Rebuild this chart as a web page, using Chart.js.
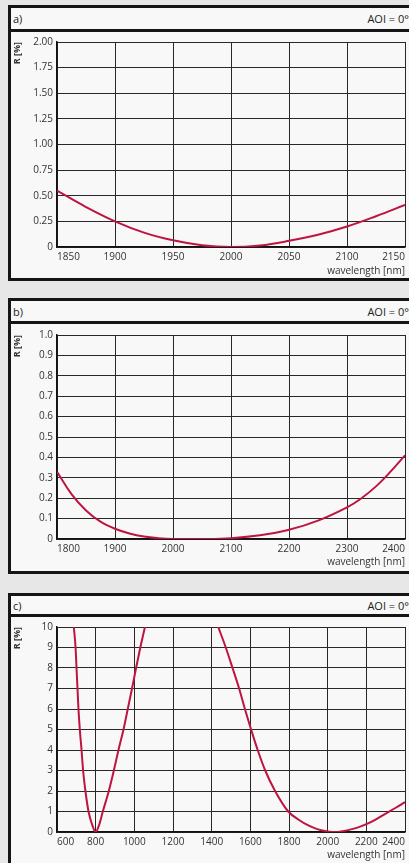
<!DOCTYPE html>
<html>
<head>
<meta charset="utf-8">
<script src="https://cdn.jsdelivr.net/npm/chart.js@4/dist/chart.umd.min.js"></script>
<style>
  html, body { margin: 0; padding: 0; }
  body { width: 409px; height: 863px; overflow: hidden; background: #e7e7e7; position: relative;
         font-family: "Open Sans", "Liberation Sans", sans-serif; }
  .panel { position: absolute; left: 8px; width: 420px; border: 3px solid #151515; background: #f8f8f8; }
  .head { width: 398px; border-bottom: 3px solid #151515; display: flex; justify-content: space-between;
          align-items: center; font-size: 11px; color: #222; padding-left: 2px; box-sizing: border-box; }
  .plot { position: relative; width: 398px; }
</style>
</head>
<body>

<div class="panel" style="top:5px">
  <div class="head" style="height:24px"><span>a)</span><span>AOI = 0°</span></div>
  <div class="plot" style="height:246px"><canvas id="chartA"></canvas></div>
</div>

<div class="panel" style="top:298px">
  <div class="head" style="height:23px"><span>b)</span><span>AOI = 0°</span></div>
  <div class="plot" style="height:247px"><canvas id="chartB"></canvas></div>
</div>

<div class="panel" style="top:593px">
  <div class="head" style="height:21px"><span>c)</span><span>AOI = 0°</span></div>
  <div class="plot" style="height:246px"><canvas id="chartC"></canvas></div>
</div>

<script>
// a) reflectance around 2000 nm
const wavelengthA = [1850, 1875, 1900, 1925, 1950, 1975, 2000, 2025, 2050, 2075, 2100, 2125, 2150];
const reflectA    = [0.55, 0.39, 0.25, 0.14, 0.065, 0.017, 0, 0.015, 0.06, 0.12, 0.2, 0.3, 0.41];
const xTicksA = [1850, 1900, 1950, 2000, 2050, 2100, 2150];
const yTicksA = [0, 0.25, 0.5, 0.75, 1, 1.25, 1.5, 1.75, 2];

// b) broadband 1800-2400 nm
const wavelengthB = [1800, 1825, 1850, 1875, 1900, 1925, 1950, 1975, 2000, 2050, 2100, 2150, 2200, 2250, 2300, 2325, 2350, 2375, 2400];
const reflectB    = [0.33, 0.22, 0.14, 0.085, 0.05, 0.027, 0.012, 0.004, 0, 0, 0.004, 0.018, 0.045, 0.09, 0.155, 0.2, 0.258, 0.33, 0.41];
const xTicksB = [1800, 1900, 2000, 2100, 2200, 2300, 2400];
const yTicksB = [0, 0.1, 0.2, 0.3, 0.4, 0.5, 0.6, 0.7, 0.8, 0.9, 1];

// c) dual band 800 nm + 2040 nm, two branches
const wavelengthC1 = [687, 696, 701, 706, 711, 718, 727, 735, 747, 763, 782, 800, 818, 837, 868, 894, 918, 944, 966, 988, 1009, 1031, 1055];
const reflectC1    = [10, 9, 8, 7, 6, 5, 4, 3, 2, 1, 0.35, 0, 0.35, 1, 2, 3, 4, 5, 6, 7, 8, 9, 10];
const wavelengthC2 = [1434, 1473, 1508, 1542, 1572, 1604, 1638, 1677, 1728, 1796, 1850, 1900, 1950, 2000, 2040, 2100, 2150, 2200, 2250, 2300, 2350, 2400];
const reflectC2    = [10, 9, 8, 7, 6, 5, 4, 3, 2, 1, 0.6, 0.32, 0.13, 0.03, 0, 0.08, 0.2, 0.38, 0.62, 0.9, 1.17, 1.46];
const xTicksC = [600, 800, 1000, 1200, 1400, 1600, 1800, 2000, 2200, 2400];
const yTicksC = [0, 1, 2, 3, 4, 5, 6, 7, 8, 9, 10];

const curveColor = '#be1440';
const gridColor = '#282828';
const tickFont = { family: '"Open Sans", "Liberation Sans", sans-serif', size: 10 };

function makeChart(id, series, xTicks, yTicks, yDecimals, padTop, axisHeight, titlePad, interp) {
  new Chart(document.getElementById(id), {
    type: 'line',
    data: {
      datasets: series.map(s => ({
        data: s.x.map((x, i) => ({ x: x, y: s.y[i] })),
        borderColor: curveColor,
        borderWidth: 2,
        pointRadius: 0,
        fill: false,
        tension: 0.4,
        cubicInterpolationMode: interp
      }))
    },
    options: {
      animation: false,
      responsive: true,
      maintainAspectRatio: false,
      layout: { padding: { top: padTop, left: 0, right: 0, bottom: 0 } },
      plugins: { legend: { display: false }, tooltip: { enabled: false } },
      scales: {
        x: {
          type: 'linear',
          min: xTicks[0],
          max: xTicks[xTicks.length - 1],
          afterBuildTicks: s => { s.ticks = xTicks.map(v => ({ value: v })); },
          afterFit: s => { s.height = axisHeight; },
          grid: { color: gridColor, lineWidth: 1, drawTicks: false },
          border: { color: '#111', width: 1.5 },
          ticks: { align: 'inner', padding: 4, autoSkip: false, maxRotation: 0,
                   font: tickFont, color: '#333', callback: v => String(v) },
          title: { display: true, text: 'wavelength [nm]', align: 'end', font: tickFont,
                   color: '#333', padding: { top: 0, bottom: titlePad } }
        },
        y: {
          min: yTicks[0],
          max: yTicks[yTicks.length - 1],
          afterBuildTicks: s => { s.ticks = yTicks.map(v => ({ value: v })); },
          afterFit: s => { s.width = 46; },
          grid: { color: gridColor, lineWidth: 1, drawTicks: false },
          border: { color: '#111', width: 1.5 },
          ticks: { padding: 4, font: tickFont, color: '#333',
                   callback: v => v === 0 ? '0' : Number(v).toFixed(yDecimals) },
          title: { display: true, text: 'R [%]', align: 'end',
                   font: { family: tickFont.family, size: 9, weight: 'bold' },
                   color: '#333', padding: { top: 1, bottom: 0 } }
        }
      }
    }
  });
}

makeChart('chartA', [{ x: wavelengthA, y: reflectA }], xTicksA, yTicksA, 2, 10, 31, 1, 'default');
makeChart('chartB', [{ x: wavelengthB, y: reflectB }], xTicksB, yTicksB, 1, 11, 32, 3, 'default');
makeChart('chartC', [{ x: wavelengthC1, y: reflectC1 }, { x: wavelengthC2, y: reflectC2 }], xTicksC, yTicksC, 0, 10, 31, 2, 'monotone');
</script>
</body>
</html>
